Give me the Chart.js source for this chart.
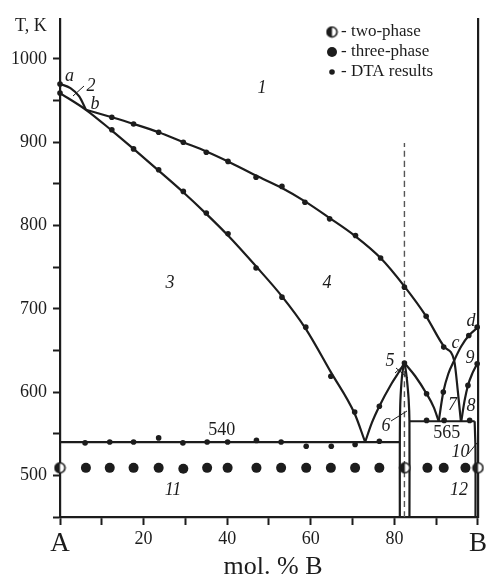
<!DOCTYPE html>
<html><head><meta charset="utf-8">
<script src="https://cdn.jsdelivr.net/npm/chart.js@4.4.1/dist/chart.umd.min.js"></script>
<style>html,body{margin:0;padding:0;background:#fff}#wrap{width:490px;height:582px}</style>
</head><body><div id="wrap"><canvas id="c" width="490" height="582"></canvas></div>
<script>
// ---- data (x = mol.% B, T in K) ----
const curveAX = [0, 2.5, 4.6, 6.2];
const curveAT = [970, 965, 955, 939];
const upperLiqX = [6.2, 12.4, 17.6, 23.6, 29.5, 35, 40.2, 46.9, 53.1, 58.6, 64.5, 70.7, 76.7, 82.4, 87.6, 92.0, 94.3, 95.2, 95.9];
const upperLiqT = [939, 930, 922, 912, 900, 889, 877, 860, 845, 829, 809, 787, 761, 727, 691, 654, 638, 600, 565];
const lowerX = [0, 6.2, 12.4, 17.6, 23.6, 29.5, 35, 40.2, 46.9, 53.1, 58.8, 64.8, 70.5, 73];
const lowerT = [959, 939, 914, 892, 866, 840, 814, 788, 751, 715, 676, 624, 574, 540];
const vRightX = [73, 74.6, 76.4, 79.3, 81.2, 82.4];
const vRightT = [540, 563, 583, 610, 625, 635];
const peakRightX = [82.4, 85.0, 87.7, 89.4, 90.6];
const peakRightT = [635, 619, 598, 582, 565];
const curveDX = [90.6, 91.7, 92.9, 94.3, 96.0, 97.8, 99.8];
const curveDT = [565, 600, 622, 638, 655, 668, 677];
const curve8X = [96.0, 96.8, 97.6, 98.7, 99.8];
const curve8T = [565, 590, 608, 623, 634];
const compLeftX = [81.3, 81.3, 81.4, 81.7, 82.0, 82.4];
const compLeftT = [450, 540, 585, 612, 626, 635];
const compRightX = [83.6, 83.6, 83.4, 83.0, 82.7, 82.4];
const compRightT = [450, 565, 592, 615, 627, 635];
const eut540X = [0, 81.3];
const eut540T = [540, 540];
const per565X = [83.6, 99.2];
const per565T = [565, 565];
const line10X = [99.2, 99.4, 99.4];
const line10T = [565, 530, 450];
const dashX = [82.4, 82.4];
const dashT = [450, 899];

const dtaX = [0, 0, 12.4, 17.6, 23.6, 29.5, 35, 40.2, 46.9, 53.1, 58.6, 64.5, 70.7, 76.7, 82.4, 87.6, 91.8,
  12.4, 17.6, 23.6, 29.5, 35, 40.2, 46.9, 53.1, 58.8, 64.8, 70.5,
  76.4, 82.4, 87.7, 91.7, 97.8, 99.8, 97.6, 99.8,
  6, 11.9, 17.6, 23.6, 29.4, 35.2, 40.1, 47, 52.9, 58.9, 64.9, 70.6, 76.4,
  87.7, 91.9, 98];
const dtaT = [970, 959, 930, 922, 912, 900, 888, 877, 858, 847, 828, 808, 788, 761, 726, 691, 654,
  915, 892, 867, 841, 815, 790, 749, 714, 678, 619, 576,
  583, 635, 598, 600, 668, 678, 608, 634,
  539, 540, 540, 545, 539, 540, 540, 542, 540, 535, 535, 537, 541,
  566, 566, 566];
const threeX = [6.2, 11.9, 17.6, 23.6, 29.5, 35.2, 40.1, 47, 52.9, 58.9, 64.8, 70.6, 76.4, 87.9, 91.8, 97];
const threeT = [509, 509, 509, 509, 508, 509, 509, 509, 509, 509, 509, 509, 509, 509, 509, 509];
const twoX = [0, 82.5, 100];
const twoT = [509, 509, 509];

const yTickValues = [450, 500, 550, 600, 650, 700, 750, 800, 850, 900, 950, 1000];
const yTickLabels = [500, 600, 700, 800, 900, 1000];
const xTickLabels = {0: 'A', 20: '20', 40: '40', 60: '60', 80: '80', 100: 'B'};

// ---- helpers ----
const INK = '#1c1c1c';
const SERIF = '"Liberation Serif", "Times New Roman", serif';
function pts(xs, ts) { return xs.map((x, i) => ({x: x, y: ts[i]})); }
function halfCircle(r) {
  const s = Math.ceil(2 * r + 3);
  const c = document.createElement('canvas');
  c.width = s; c.height = s;
  const g = c.getContext('2d');
  const m = s / 2;
  g.beginPath(); g.arc(m, m, r, 0, 2 * Math.PI); g.fillStyle = '#fff'; g.fill();
  g.beginPath(); g.arc(m, m, r, Math.PI / 2, 3 * Math.PI / 2); g.closePath(); g.fillStyle = INK; g.fill();
  g.beginPath(); g.arc(m, m, r, 0, 2 * Math.PI); g.lineWidth = 1.6; g.strokeStyle = INK; g.stroke();
  return c;
}
const halfImg = halfCircle(5);
const halfImgLeg = halfCircle(5);

function curve(xs, ts, opts) {
  return Object.assign({
    type: 'line', data: pts(xs, ts), showLine: true, borderColor: INK, borderWidth: 2.2,
    pointRadius: 0, pointHoverRadius: 0, fill: false, cubicInterpolationMode: 'monotone', order: 5
  }, opts || {});
}

const datasets = [
  curve(curveAX, curveAT),
  curve(upperLiqX, upperLiqT),
  curve(lowerX, lowerT),
  curve(vRightX, vRightT),
  curve(peakRightX, peakRightT),
  curve(curveDX, curveDT),
  curve(curve8X, curve8T),
  curve(compLeftX, compLeftT, {cubicInterpolationMode: 'default', tension: 0.35}),
  curve(compRightX, compRightT, {cubicInterpolationMode: 'default', tension: 0.35}),
  curve(eut540X, eut540T, {tension: 0}),
  curve(per565X, per565T, {tension: 0}),
  curve(line10X, line10T, {cubicInterpolationMode: 'default', tension: 0.3}),
  curve(dashX, dashT, {tension: 0, borderColor: '#555', borderWidth: 1.4, borderDash: [6, 4], order: 6}),
  {type: 'scatter', data: pts(dtaX, dtaT), pointRadius: 2.8, pointBackgroundColor: INK, pointBorderWidth: 0, showLine: false, order: 1, clip: false},
  {type: 'scatter', data: pts(threeX, threeT), pointRadius: 5, pointBackgroundColor: INK, pointBorderWidth: 0, showLine: false, order: 1, clip: false},
  {type: 'scatter', data: pts(twoX, twoT), pointStyle: halfImg, pointRadius: 6, showLine: false, order: 0, clip: false}
];

const labels = [
  ['1', 262, 88, true], ['2', 91, 86, true], ['a', 69.5, 76, true], ['b', 95, 104, true],
  ['3', 170, 283, true], ['4', 327, 283, true], ['5', 390, 361, true], ['6', 386, 426, true],
  ['7', 452.5, 405, true], ['8', 471, 406.5, true], ['9', 470, 358, true], ['c', 455.5, 343, true],
  ['d', 471, 321.5, true], ['10', 460.5, 452.5, true], ['11', 173, 490, true], ['12', 459, 490, true],
  ['540', 221.7, 430, false], ['565', 446.7, 433.3, false]
];
const leaders = [[73, 96, 84, 86], [395, 373, 404, 365], [396, 368, 408, 378], [391, 421, 407, 411], [468, 454, 477, 443]];

const decor = {
  id: 'decor',
  afterDraw(chart) {
    const g = chart.ctx;
    g.save();
    g.fillStyle = INK; g.strokeStyle = INK;
    g.textAlign = 'center'; g.textBaseline = 'middle';
    labels.forEach(l => {
      g.font = (l[3] ? 'italic ' : '') + '18px ' + SERIF;
      g.fillText(l[0], l[1], l[2]);
    });
    g.lineWidth = 1;
    leaders.forEach(s => { g.beginPath(); g.moveTo(s[0], s[1]); g.lineTo(s[2], s[3]); g.stroke(); });
    // axis titles
    g.font = '18px ' + SERIF; g.textAlign = 'left';
    g.fillText('T, K', 15, 26);
    g.font = '26px ' + SERIF; g.textAlign = 'center';
    g.fillText('mol. % B', 273, 567);
    // legend
    g.font = '17px ' + SERIF; g.textAlign = 'left';
    g.drawImage(halfImgLeg, 332 - halfImgLeg.width / 2, 32 - halfImgLeg.height / 2);
    g.fillText('- two-phase', 341, 32);
    g.beginPath(); g.arc(332, 52, 5, 0, 2 * Math.PI); g.fill();
    g.fillText('- three-phase', 341, 52);
    g.beginPath(); g.arc(332, 72, 2.8, 0, 2 * Math.PI); g.fill();
    g.fillText('- DTA results', 341, 72);
    g.restore();
  }
};

new Chart(document.getElementById('c'), {
  type: 'scatter',
  data: {datasets: datasets},
  options: {
    responsive: false, animation: false, devicePixelRatio: 1,
    layout: {padding: {top: 19, left: 0, right: 0, bottom: 0}},
    plugins: {legend: {display: false}, tooltip: {enabled: false}},
    scales: {
      x: {
        type: 'linear', min: 0, max: 100,
        ticks: {stepSize: 10, autoSkip: false, maxRotation: 0, color: INK, padding: 3,
          callback: v => (xTickLabels[v] !== undefined ? xTickLabels[v] : ''),
          font: c => ({family: SERIF, size: (c.tick && (c.tick.value === 0 || c.tick.value === 100)) ? 27 : 18})},
        grid: {display: true, drawOnChartArea: false, drawTicks: true, tickLength: 8, tickWidth: 2, tickColor: INK},
        border: {display: true, width: 2.2, color: INK},
        afterFit: s => { s.height = 65; }
      },
      y: {
        type: 'linear', min: 450, max: 1048,
        ticks: {autoSkip: false, color: INK, padding: 6, font: {family: SERIF, size: 18},
          callback: v => (yTickLabels.includes(v) ? String(v) : '')},
        afterBuildTicks: s => { s.ticks = yTickValues.map(v => ({value: v})); },
        grid: {display: true, drawOnChartArea: false, drawTicks: true, tickLength: 7, tickWidth: 2, tickColor: INK},
        border: {display: true, width: 2.2, color: INK},
        afterFit: s => { s.width = 60; }
      },
      yR: {
        type: 'linear', position: 'right', min: 450, max: 1048,
        ticks: {display: false}, grid: {display: false},
        border: {display: true, width: 2.2, color: INK},
        afterFit: s => { s.width = 10; }
      }
    }
  },
  plugins: [decor]
});
</script>
</body></html>
